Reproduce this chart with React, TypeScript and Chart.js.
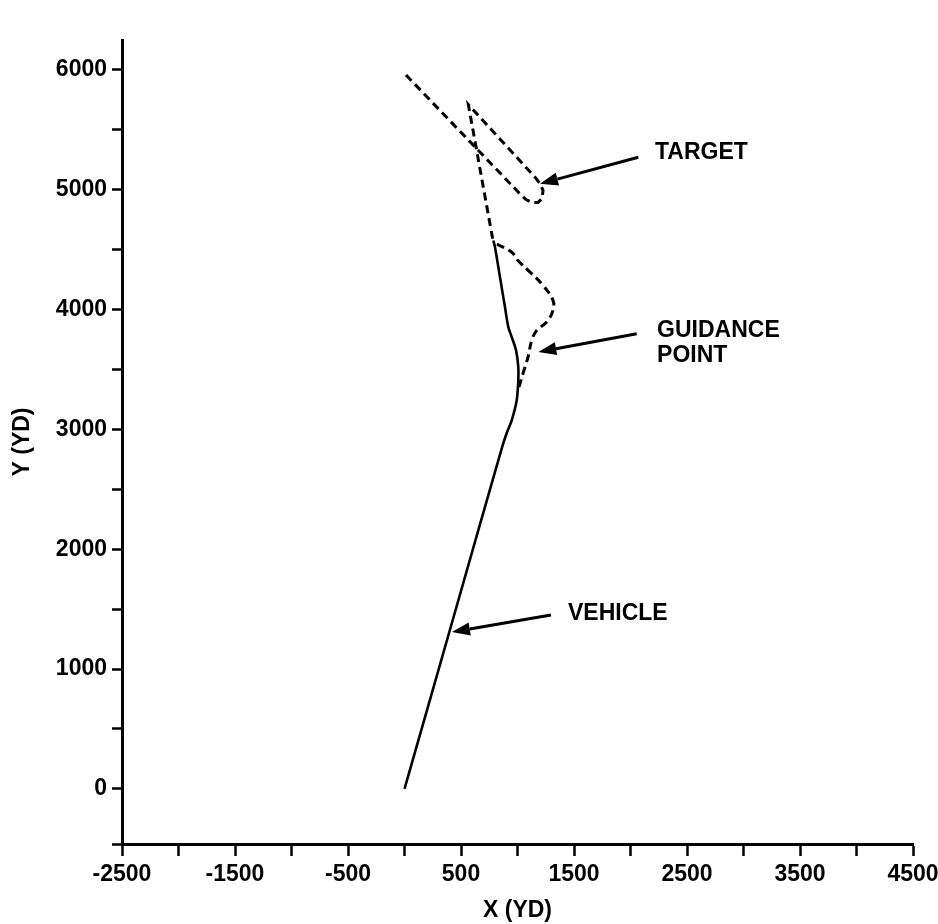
import React, { useEffect, useRef } from 'react';
import { Chart, registerables } from 'chart.js';

Chart.register(...registerables);

// ---- Data (yards) ----
const vehiclePath: [number, number][] = [
  [0, 0], [430, 1420], [860, 2840], [904, 2968], [949, 3076], [993, 3243],
  [1007, 3410], [1007, 3521], [987, 3660], [949, 3771], [919, 3854],
  [889, 4021], [845, 4271], [801, 4521], [786, 4577],
];
const guidancePath: [number, number][] = [
  [1013, 3354], [1049, 3468], [1093, 3604], [1126, 3743], [1170, 3827],
  [1258, 3896], [1314, 3993], [1314, 4077], [1226, 4202], [1111, 4313],
  [1004, 4410], [949, 4479], [786, 4561],
];
const targetPath: [number, number][] = [
  [13, 5958], [1022, 4966], [1075, 4919], [1128, 4894], [1181, 4894],
  [1217, 4927], [1226, 4994], [1199, 5052], [1155, 5105], [565, 5711],
  [786, 4561],
];

// axis ticks
const xMin = -2500;
const xMax = 4500;
const yMin = -460;
const yMax = 6250;
const xTicks = [-2500, -2000, -1500, -1000, -500, 0, 500, 1000, 1500, 2000, 2500, 3000, 3500, 4000, 4500];
const xTickLabels = [-2500, -1500, -500, 500, 1500, 2500, 3500, 4500];
const yTicks = [yMin, 0, 500, 1000, 1500, 2000, 2500, 3000, 3500, 4000, 4500, 5000, 5500, 6000];
const yTickLabels = [0, 1000, 2000, 3000, 4000, 5000, 6000];

// callouts: arrow tail, arrow tip, label lines (all in data units)
const calloutText = [['TARGET'], ['GUIDANCE', 'POINT'], ['VEHICLE']];
const calloutTail: [number, number][] = [[2069, 5271], [2055, 3799], [1296, 1451]];
const calloutTip: [number, number][] = [[1199, 5050], [1184, 3646], [420, 1309]];
const calloutLabelPos: [number, number][] = [[2217, 5260], [2235, 3768], [1447, 1409]];
const calloutLineGap = 208; // yards between label lines

const FONT = "'Liberation Sans', Arial, Helvetica, sans-serif";

const toXY = (arr: [number, number][]) => arr.map(([x, y]) => ({ x, y }));

const calloutPlugin = {
  id: 'callouts',
  afterDatasetsDraw(chart: any) {
    const { ctx, scales } = chart;
    const xs = scales.x;
    const ys = scales.y;
    ctx.save();
    ctx.strokeStyle = '#000';
    ctx.fillStyle = '#000';
    ctx.lineWidth = 3;
    ctx.lineCap = 'butt';
    calloutText.forEach((lines, i) => {
      const x1 = xs.getPixelForValue(calloutTail[i][0]);
      const y1 = ys.getPixelForValue(calloutTail[i][1]);
      const x2 = xs.getPixelForValue(calloutTip[i][0]);
      const y2 = ys.getPixelForValue(calloutTip[i][1]);
      const ang = Math.atan2(y2 - y1, x2 - x1);
      const head = 18;
      const half = 6.5;
      const bx = x2 - head * Math.cos(ang);
      const by = y2 - head * Math.sin(ang);
      ctx.beginPath();
      ctx.moveTo(x1, y1);
      ctx.lineTo(bx, by);
      ctx.stroke();
      ctx.beginPath();
      ctx.moveTo(x2, y2);
      ctx.lineTo(bx + half * Math.sin(ang), by - half * Math.cos(ang));
      ctx.lineTo(bx - half * Math.sin(ang), by + half * Math.cos(ang));
      ctx.closePath();
      ctx.fill();

      ctx.font = `bold 23px ${FONT}`;
      ctx.textAlign = 'left';
      ctx.textBaseline = 'alphabetic';
      lines.forEach((t, j) => {
        const lx = xs.getPixelForValue(calloutLabelPos[i][0]);
        const ly = ys.getPixelForValue(calloutLabelPos[i][1] - j * calloutLineGap);
        ctx.fillText(t, lx, ly);
      });
    });
    ctx.restore();
  },
};

export default function App() {
  const ref = useRef<HTMLCanvasElement>(null);

  useEffect(() => {
    if (!ref.current) return;
    const tickFont = { family: FONT, size: 23, weight: 'bold' as const };
    const chart = new Chart(ref.current, {
      type: 'scatter',
      data: {
        datasets: [
          {
            label: 'VEHICLE',
            data: toXY(vehiclePath),
            showLine: true,
            borderColor: '#000',
            borderWidth: 2.6,
            pointRadius: 0,
            tension: 0.3,
          },
          {
            label: 'GUIDANCE POINT',
            data: toXY(guidancePath),
            showLine: true,
            borderColor: '#000',
            borderWidth: 3,
            borderDash: [8, 5],
            pointRadius: 0,
            tension: 0.4,
          },
          {
            label: 'TARGET',
            data: toXY(targetPath),
            showLine: true,
            borderColor: '#000',
            borderWidth: 3,
            borderDash: [8, 5],
            pointRadius: 0,
            tension: 0,
          },
        ],
      },
      options: {
        responsive: false,
        animation: false,
        devicePixelRatio: 1,
        layout: { padding: { left: 0, top: 40, right: 25, bottom: 0 } },
        plugins: {
          legend: { display: false },
          tooltip: { enabled: false },
        },
        scales: {
          x: {
            type: 'linear',
            min: xMin,
            max: xMax,
            afterBuildTicks: (scale: any) => {
              scale.ticks = xTicks.map((v) => ({ value: v }));
            },
            afterFit: (scale: any) => {
              scale.height = 80;
              scale.paddingLeft = 0;
              scale.paddingRight = 0;
            },
            border: { display: true, color: '#000', width: 3 },
            grid: {
              display: true,
              drawOnChartArea: false,
              drawTicks: true,
              tickLength: 12,
              tickWidth: 2.5,
              tickColor: '#000',
              color: '#000',
            },
            ticks: {
              autoSkip: false,
              maxRotation: 0,
              minRotation: 0,
              padding: 5,
              color: '#000',
              font: tickFont,
              callback: (v: any) => (xTickLabels.includes(Number(v)) ? String(v) : ''),
            },
            title: {
              display: true,
              text: 'X (YD)',
              color: '#000',
              font: tickFont,
              padding: { top: 0, bottom: 0 },
            },
          },
          y: {
            type: 'linear',
            min: yMin,
            max: yMax,
            afterBuildTicks: (scale: any) => {
              scale.ticks = yTicks.map((v) => ({ value: v }));
            },
            afterFit: (scale: any) => {
              scale.width = 122;
              scale.paddingTop = 0;
              scale.paddingBottom = 0;
            },
            border: { display: true, color: '#000', width: 3 },
            grid: {
              display: true,
              drawOnChartArea: false,
              drawTicks: true,
              tickLength: 10,
              tickWidth: 2.5,
              tickColor: '#000',
              color: '#000',
            },
            ticks: {
              autoSkip: false,
              padding: 5,
              color: '#000',
              font: tickFont,
              callback: (v: any) => (yTickLabels.includes(Number(v)) ? String(v) : ''),
            },
            title: {
              display: true,
              text: 'Y (YD)',
              color: '#000',
              font: tickFont,
              padding: { top: 9, bottom: 0 },
            },
          },
        },
      },
      plugins: [calloutPlugin],
    });
    return () => chart.destroy();
  }, []);

  return (
    <div style={{ position: 'absolute', left: 0, top: 0, width: 938, height: 924, background: '#fff' }}>
      <canvas ref={ref} width={938} height={924} style={{ display: 'block', width: 938, height: 924 }} />
    </div>
  );
}
